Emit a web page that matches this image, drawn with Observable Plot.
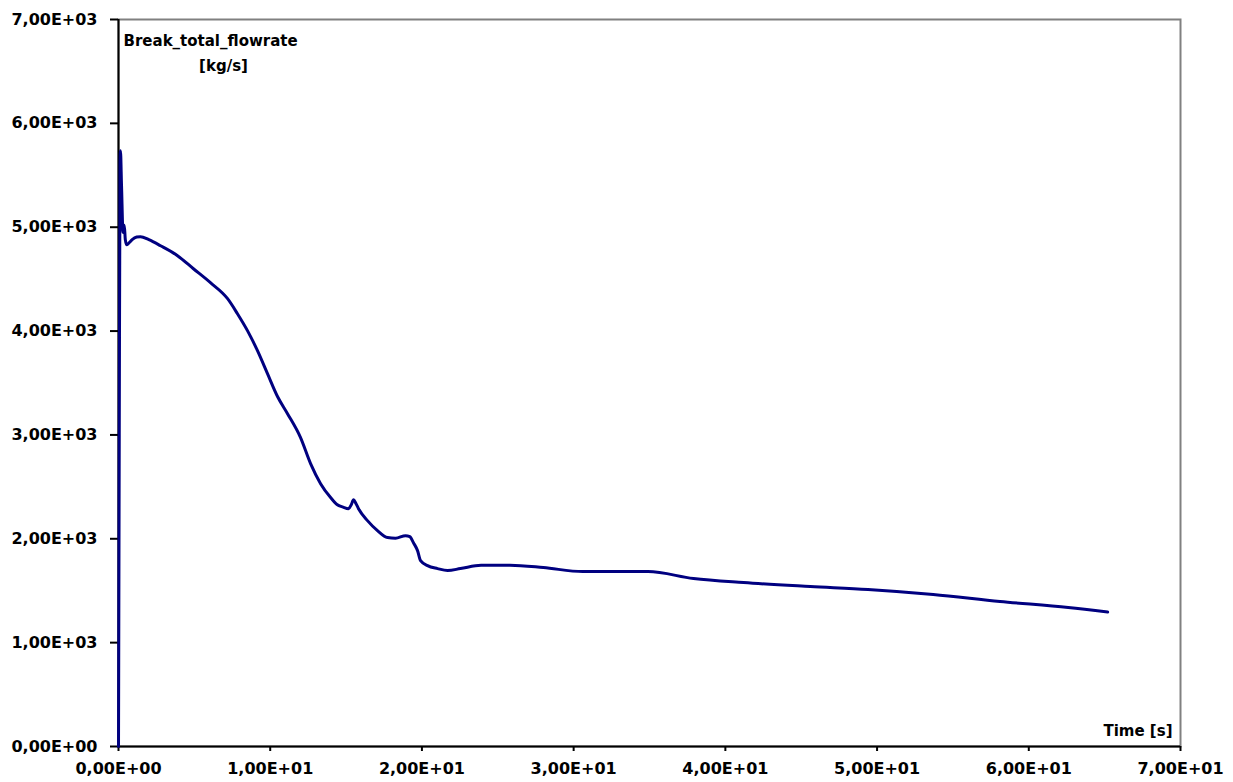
<!DOCTYPE html>
<html>
<head>
<meta charset="utf-8">
<script src="https://cdn.jsdelivr.net/npm/d3@7"></script>
<script src="https://cdn.jsdelivr.net/npm/@observablehq/plot@0.6"></script>
<style>
  html, body { margin: 0; padding: 0; background: #fff; }
</style>
</head>
<body>
<div id="chart"></div>
<script>
// Time [s]
const timeS = [0, 0.05, 0.1, 0.13, 0.2, 0.3, 0.38, 0.45, 0.55, 0.7, 0.9, 1.2, 1.45, 2.0, 2.77, 3.89, 4.94, 6.06, 7.19, 7.84, 8.5, 9.16, 9.82, 10.48, 11.14, 12.0, 12.66, 13.32, 13.98, 14.4, 14.8, 15.16, 15.35, 15.49, 15.65, 15.82, 16.41, 17.07, 17.73, 18.26, 18.92, 19.2, 19.45, 19.71, 19.91, 20.37, 21.03, 21.69, 22.54, 23.9, 25.8, 28.0, 30.6, 34.9, 37.9, 41.2, 45.6, 49.4, 53.7, 58.1, 62.6, 65.2];
// Break_total_flowrate [kg/s]
const flowKgS = [0, 3000, 5600, 5736, 5400, 4950, 5020, 4880, 4830, 4850, 4880, 4905, 4909, 4880, 4822, 4726, 4600, 4466, 4312, 4167, 4004, 3811, 3590, 3370, 3205, 2974, 2724, 2531, 2397, 2330, 2305, 2290, 2330, 2377, 2340, 2290, 2175, 2079, 2012, 2005, 2030, 2020, 1960, 1886, 1790, 1742, 1713, 1694, 1713, 1745, 1745, 1723, 1684, 1684, 1617, 1578, 1540, 1511, 1463, 1396, 1338, 1294];

const xTicks = [0, 10, 20, 30, 40, 50, 60, 70];
const yTicks = [0, 1000, 2000, 3000, 4000, 5000, 6000, 7000];
const titleLine1 = "Break_total_flowrate";
const titleLine2 = "[kg/s]";
const xLabel = "Time [s]";

const data = timeS.map((t, i) => ({t, v: flowKgS[i]}));
const fmt = v => v.toExponential(2).replace(".", ",").replace(/e([+-])(\d)$/, "E$10$2").replace(/e([+-])(\d\d)$/, "E$1$2");

const chart = Plot.plot({
  width: 1233,
  height: 782,
  marginLeft: 118,
  marginRight: 53,
  marginTop: 19,
  marginBottom: 36,
  style: {fontFamily: "'DejaVu Sans', sans-serif", fontSize: "15px", fontWeight: "bold", color: "#000", background: "#fff"},
  x: {domain: [0, 70]},
  y: {domain: [0, 7000]},
  marks: [
    Plot.frame({stroke: "#808080", strokeWidth: 2}),
    Plot.ruleX([0], {stroke: "#000", strokeWidth: 2}),
    Plot.ruleY([0], {stroke: "#000", strokeWidth: 2}),
    Plot.axisY({ticks: yTicks, tickFormat: fmt, tickSize: 8, tickPadding: 13, strokeWidth: 2, stroke: "#000", label: null, fontSize: 16}),
    Plot.axisX({ticks: xTicks, tickFormat: fmt, tickSize: 5, tickPadding: 11, strokeWidth: 2, stroke: "#000", label: null, fontSize: 16}),
    Plot.line(data, {x: "t", y: "v", stroke: "#000080", strokeWidth: 3, strokeLinejoin: "round", curve: "monotone-x"}),
    Plot.text([titleLine1], {frameAnchor: "top-left", text: d => d, dx: 5, dy: 16, textAnchor: "start", fontWeight: "bold"}),
    Plot.text([titleLine2], {frameAnchor: "top-left", text: d => d, dx: 105, dy: 41, textAnchor: "middle", fontWeight: "bold"}),
    Plot.text([xLabel], {frameAnchor: "bottom-right", text: d => d, dx: -8, dy: -11, textAnchor: "end", fontWeight: "bold"})
  ]
});
document.getElementById("chart").appendChild(chart);
</script>
</body>
</html>
